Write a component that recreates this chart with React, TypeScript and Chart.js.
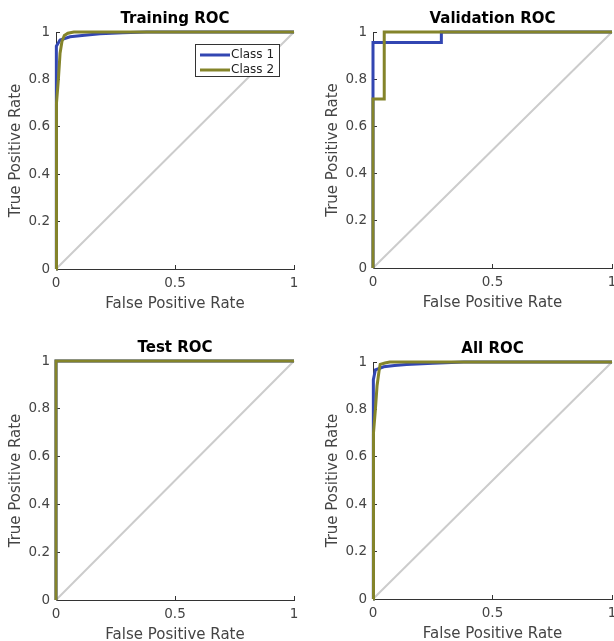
import React, { useEffect, useRef } from "react";
import { Chart, registerables } from "chart.js";

Chart.register(...registerables);

// ---------- data ----------
const panelTitles = ["Training ROC", "Validation ROC", "Test ROC", "All ROC"];
const seriesLabels = ["Class 1", "Class 2"];
const xTickValues = [0, 0.5, 1];
const yTickValues = [0, 0.2, 0.4, 0.6, 0.8, 1];
const xAxisLabel = "False Positive Rate";
const yAxisLabel = "True Positive Rate";

const trainC1X = [0, 0, 0.003, 0.017, 0.059, 0.12, 0.185, 0.28, 0.38, 1];
const trainC1Y = [0, 0.6, 0.94, 0.966, 0.98, 0.986, 0.993, 0.997, 1, 1];
const trainC2X = [0, 0, 0.004, 0.01, 0.017, 0.025, 0.035, 0.05, 0.075, 1];
const trainC2Y = [0, 0.57, 0.7, 0.8, 0.91, 0.96, 0.985, 0.995, 1, 1];

const valC1X = [0, 0, 0.286, 0.286, 1];
const valC1Y = [0, 0.955, 0.955, 1, 1];
const valC2X = [0, 0, 0.047, 0.047, 1];
const valC2Y = [0, 0.716, 0.716, 1, 1];

const testC1X = [0, 0, 1];
const testC1Y = [0, 1, 1];
const testC2X = [0, 0, 1];
const testC2Y = [0, 1, 1];

const allC1X = [0, 0, 0.003, 0.01, 0.045, 0.09, 0.14, 0.25, 0.38, 1];
const allC1Y = [0, 0.55, 0.925, 0.967, 0.98, 0.985, 0.989, 0.995, 1, 1];
const allC2X = [0, 0, 0.004, 0.01, 0.017, 0.025, 0.03, 0.05, 0.07, 1];
const allC2Y = [0, 0.55, 0.7, 0.8, 0.9, 0.96, 0.99, 0.996, 1, 1];

const diagX = [0, 1];
const diagY = [0, 1];

// ---------- styling / layout ----------
const FONT = "'DejaVu Sans', 'Liberation Sans', sans-serif";
const C1_COLOR = "#3246b2";
const C2_COLOR = "#84842a";
const DIAG_COLOR = "#cccccc";
const TEXT_COLOR = "#444444";
const AXIS_COLOR = "#333333";

const LEFT_M = 56;
const TOP_M = 40;
const RIGHT_M = 40;
const BOTTOM_M = 50;

const panelBoxes = [
  { left: 56, top: 32, w: 238, h: 237 },
  { left: 373, top: 32, w: 239, h: 236 },
  { left: 56, top: 361, w: 238, h: 239 },
  { left: 373, top: 362, w: 239, h: 237 },
];

const panelSeries = [
  [trainC1X, trainC1Y, trainC2X, trainC2Y],
  [valC1X, valC1Y, valC2X, valC2Y],
  [testC1X, testC1Y, testC2X, testC2Y],
  [allC1X, allC1Y, allC2X, allC2Y],
];

const zip = (xs: number[], ys: number[]) => xs.map((x, i) => ({ x, y: ys[i] }));

const fmt = (v: number) => String(Math.round(v * 10) / 10);

const insideLegend = {
  id: "insideLegend",
  afterDatasetsDraw(chart: any, _args: any, opts: any) {
    if (!opts || !opts.show) return;
    const { ctx, chartArea } = chart;
    const w = 84;
    const h = 32;
    const x = chartArea.right - 15 - w;
    const y = chartArea.top + 12;
    ctx.save();
    ctx.fillStyle = "#ffffff";
    ctx.fillRect(x, y, w, h);
    ctx.strokeStyle = "#333333";
    ctx.lineWidth = 1;
    ctx.strokeRect(Math.round(x) + 0.5, Math.round(y) + 0.5, w, h);
    const colors = [C1_COLOR, C2_COLOR];
    ctx.font = `12px ${FONT}`;
    ctx.textBaseline = "middle";
    ctx.textAlign = "left";
    seriesLabels.forEach((lab, i) => {
      const ry = y + 11 + i * 15;
      ctx.strokeStyle = colors[i];
      ctx.lineWidth = 3;
      ctx.beginPath();
      ctx.moveTo(x + 5, ry);
      ctx.lineTo(x + 35, ry);
      ctx.stroke();
      ctx.fillStyle = "#222222";
      ctx.fillText(lab, x + 36, ry);
    });
    ctx.restore();
  },
};

function Panel({ index }: { index: number }) {
  const ref = useRef<HTMLCanvasElement | null>(null);
  const box = panelBoxes[index];
  const cw = LEFT_M + box.w + RIGHT_M;
  const ch = TOP_M + box.h + BOTTOM_M;

  useEffect(() => {
    if (!ref.current) return;
    const [c1x, c1y, c2x, c2y] = panelSeries[index];
    const chart = new Chart(ref.current, {
      type: "scatter",
      data: {
        datasets: [
          {
            label: seriesLabels[1],
            data: zip(c2x, c2y),
            borderColor: C2_COLOR,
            backgroundColor: C2_COLOR,
            borderWidth: 3,
            showLine: true,
            pointRadius: 0,
            clip: 4,
            order: 1,
          },
          {
            label: seriesLabels[0],
            data: zip(c1x, c1y),
            borderColor: C1_COLOR,
            backgroundColor: C1_COLOR,
            borderWidth: 3,
            showLine: true,
            pointRadius: 0,
            clip: 4,
            order: 2,
          },
          {
            label: "diag",
            data: zip(diagX, diagY),
            borderColor: DIAG_COLOR,
            backgroundColor: DIAG_COLOR,
            borderWidth: 2,
            showLine: true,
            pointRadius: 0,
            clip: 4,
            order: 3,
          },
        ],
      },
      options: {
        responsive: false,
        animation: false,
        devicePixelRatio: 1,
        layout: { padding: { top: 18, right: RIGHT_M, left: 0, bottom: 0 } },
        plugins: {
          legend: { display: false },
          tooltip: { enabled: false },
          title: {
            display: true,
            fullSize: false,
            text: panelTitles[index],
            color: "#000000",
            font: { family: FONT, size: 15, weight: "bold", lineHeight: 1.2 },
            padding: { top: 0, bottom: 4 },
          },
          insideLegend: { show: index === 0 },
        } as any,
        scales: {
          x: {
            type: "linear",
            min: 0,
            max: 1,
            afterFit: (s: any) => {
              s.height = BOTTOM_M;
            },
            afterBuildTicks: (s: any) => {
              s.ticks = xTickValues.map((v) => ({ value: v }));
            },
            ticks: {
              color: TEXT_COLOR,
              font: { family: FONT, size: 13.5 },
              padding: 10,
              maxRotation: 0,
              callback: (v: any) => fmt(Number(v)),
            },
            grid: {
              drawOnChartArea: false,
              drawTicks: true,
              tickLength: -4,
              tickColor: AXIS_COLOR,
            },
            border: { display: true, color: AXIS_COLOR, width: 1 },
            title: {
              display: true,
              text: xAxisLabel,
              color: TEXT_COLOR,
              font: { family: FONT, size: 15, lineHeight: 1.2 },
              padding: 6,
            },
          },
          y: {
            type: "linear",
            min: 0,
            max: 1,
            afterFit: (s: any) => {
              s.width = LEFT_M;
            },
            afterBuildTicks: (s: any) => {
              s.ticks = yTickValues.map((v) => ({ value: v }));
            },
            ticks: {
              color: TEXT_COLOR,
              font: { family: FONT, size: 13.5 },
              padding: 10,
              callback: (v: any) => fmt(Number(v)),
            },
            grid: {
              drawOnChartArea: false,
              drawTicks: true,
              tickLength: -4,
              tickColor: AXIS_COLOR,
            },
            border: { display: true, color: AXIS_COLOR, width: 1 },
            title: {
              display: true,
              text: yAxisLabel,
              color: TEXT_COLOR,
              font: { family: FONT, size: 15, lineHeight: 1.2 },
              padding: 7,
            },
          },
        },
      },
      plugins: [insideLegend],
    } as any);
    return () => chart.destroy();
  }, [index]);

  return (
    <canvas
      ref={ref}
      width={cw}
      height={ch}
      style={{
        position: "absolute",
        left: box.left - LEFT_M,
        top: box.top - TOP_M,
        width: cw,
        height: ch,
      }}
    />
  );
}

export default function App() {
  useEffect(() => {
    document.body.style.margin = "0";
  }, []);
  return (
    <div
      style={{
        position: "fixed",
        left: 0,
        top: 0,
        width: 614,
        height: 641,
        overflow: "hidden",
        background: "#ffffff",
      }}
    >
      {[0, 1, 2, 3].map((i) => (
        <Panel key={i} index={i} />
      ))}
    </div>
  );
}
